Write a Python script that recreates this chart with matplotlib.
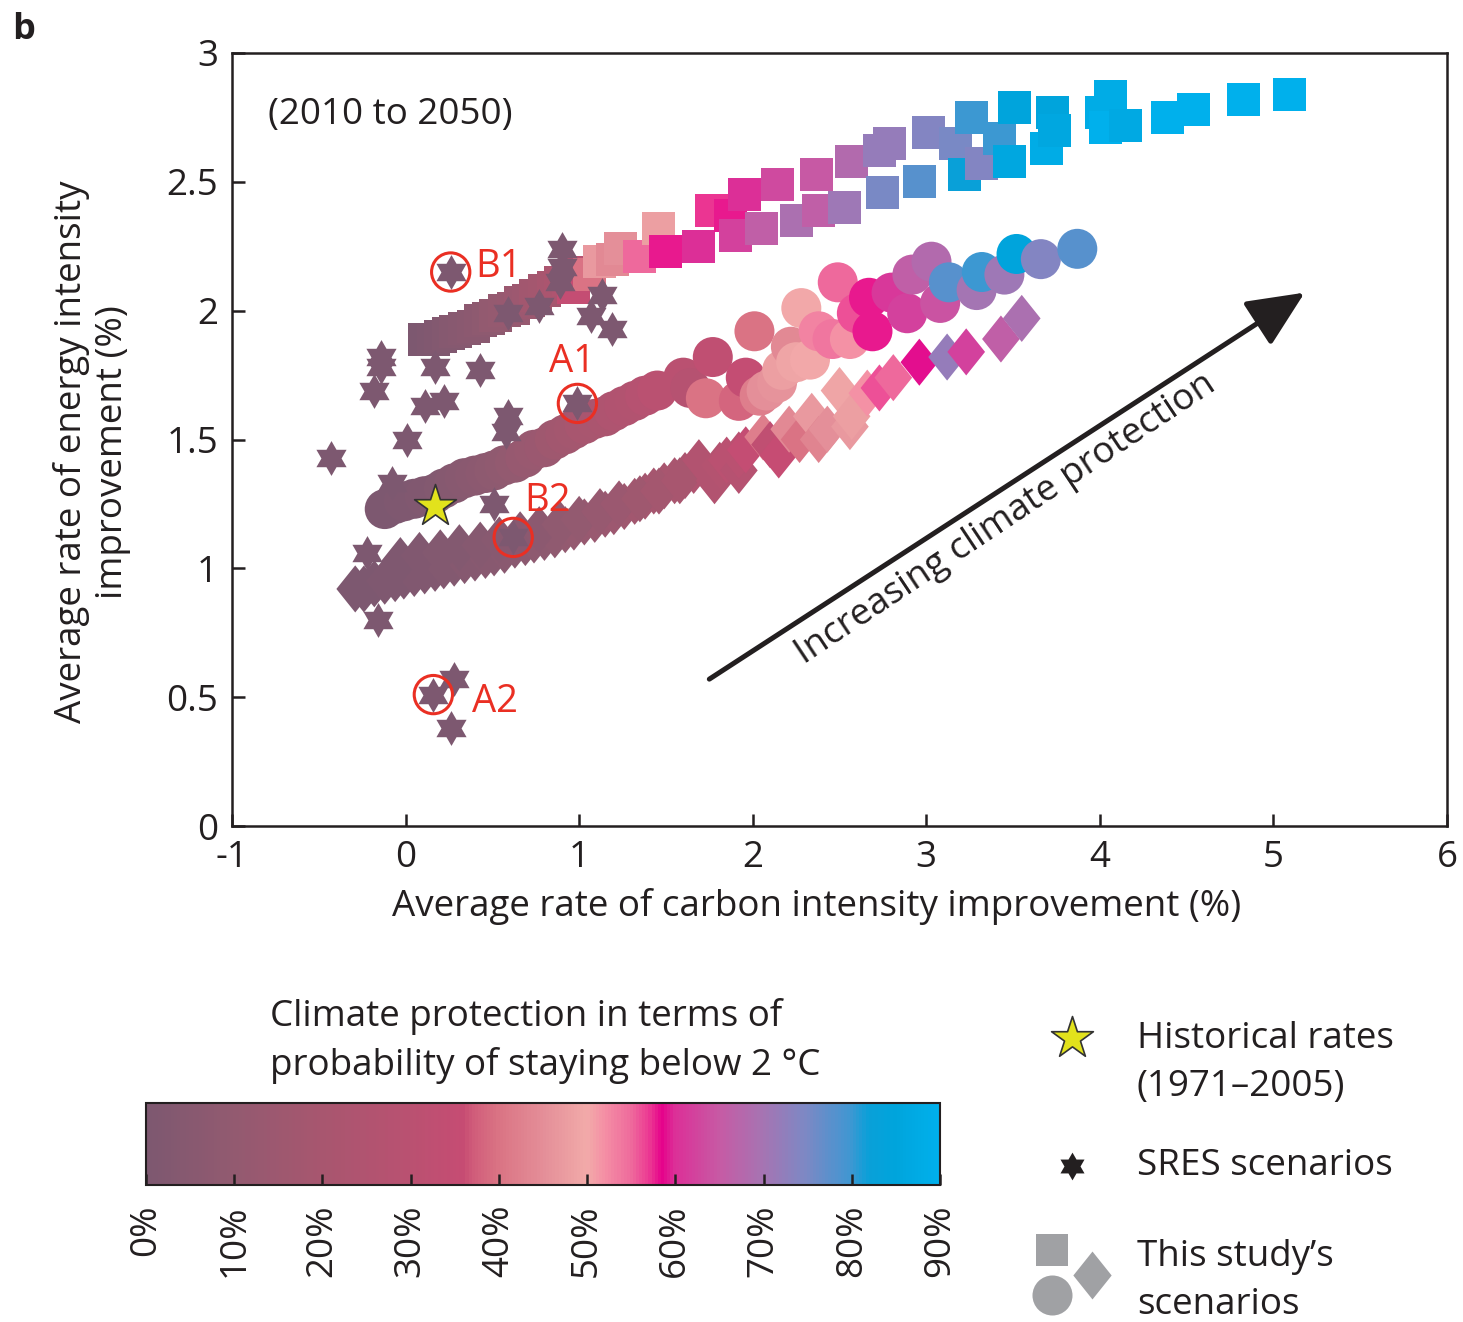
import numpy as np
import matplotlib
matplotlib.use("Agg")
import matplotlib.pyplot as plt
from matplotlib.colors import LinearSegmentedColormap, Normalize
from matplotlib.path import Path
import matplotlib.cm as cm

plt.rcParams['font.family'] = ['Open Sans', 'DejaVu Sans']
INK = '#231f20'
FS = 26.5

# colour scale: probability of staying below 2 degC (%)
cmap_pos = [0, 10, 20, 30, 36, 37, 40, 45, 50, 52, 55, 57, 58.5, 60, 65, 70, 75, 80, 82, 85, 90]
cmap_col = ['#7d5870', '#935a70', '#a8566f', '#ba5171', '#c64c73', '#d05c7a', '#da7484',
            '#e48e98', '#f2aaa9', '#f48fa5', '#ee6a9c', '#ec3c93', '#e6008a', '#dc2f97',
            '#c75aa4', '#a674b2', '#7b89c5', '#3f97d2', '#0aa0d8', '#00a4dc', '#00b0ec']
cmap = LinearSegmentedColormap.from_list('protect', list(zip(np.array(cmap_pos) / 90, cmap_col)))
norm = Normalize(0, 90)

# this study's scenarios: squares
sq_x = [0.11, 0.16, 0.20, 0.25, 0.29, 0.34, 0.39, 0.43, 0.48, 0.52, 0.57, 0.62, 0.66, 0.71,
        0.75, 0.80, 0.85, 0.89, 0.94, 0.99, 1.03, 0.97, 1.06, 1.12, 1.19, 1.24, 1.35, 1.46,
        1.50, 1.69, 1.76, 1.87, 1.90, 1.95, 2.05, 2.14, 2.25, 2.37, 2.38, 2.53, 2.57, 2.73,
        2.75, 2.79, 2.96, 3.01, 3.17, 3.22, 3.26, 3.32, 3.42, 3.48, 3.51, 3.69, 3.73, 3.74,
        4.01, 4.06, 4.03, 4.15, 4.39, 4.54, 4.83, 5.09]
sq_y = [1.89, 1.89, 1.90, 1.91, 1.92, 1.93, 1.94, 1.96, 1.97, 1.98, 2.00, 2.01, 2.03, 2.04,
        2.06, 2.08, 2.09, 2.11, 2.12, 2.14, 2.15, 2.09, 2.14, 2.19, 2.20, 2.24, 2.21, 2.32,
        2.23, 2.25, 2.39, 2.37, 2.29, 2.45, 2.32, 2.49, 2.35, 2.53, 2.39, 2.40, 2.58, 2.62,
        2.46, 2.65, 2.50, 2.69, 2.65, 2.53, 2.75, 2.57, 2.67, 2.58, 2.79, 2.63, 2.77, 2.70,
        2.77, 2.83, 2.71, 2.72, 2.75, 2.78, 2.82, 2.84]
sq_p = [0, 1, 2, 3, 4, 5, 6, 7, 8, 10, 11, 12, 14, 15,
        17, 18, 20, 22, 24, 26, 28, 35, 40, 47, 44, 45, 55, 48,
        58, 60, 57, 58, 62, 60, 66, 63, 69, 65, 66, 71, 68, 72,
        75, 72, 78, 74, 75, 82, 80, 74, 80, 86, 85, 88, 85, 86,
        88, 88, 90, 87, 90, 90, 90, 90]

# this study's scenarios: circles
ci_x = [-0.12, -0.06, -0.01, 0.05, 0.11, 0.17, 0.22, 0.28, 0.34, 0.40, 0.46, 0.51, 0.57, 0.63,
        0.69, 0.74, 0.80, 0.86, 0.92, 0.97, 1.03, 1.09, 1.15, 1.20, 1.26, 1.32, 1.38, 1.45,
        1.60, 1.64, 1.73, 1.77, 1.92, 1.96, 2.01, 2.04, 2.08, 2.14, 2.17, 2.22, 2.25, 2.28,
        2.33, 2.38, 2.46, 2.49, 2.56, 2.60, 2.67, 2.69, 2.80, 2.89, 2.92, 3.03, 3.08, 3.13,
        3.29, 3.32, 3.45, 3.52, 3.66, 3.87]
ci_y = [1.23, 1.25, 1.26, 1.27, 1.28, 1.29, 1.31, 1.33, 1.35, 1.36, 1.37, 1.38, 1.40, 1.41,
        1.43, 1.46, 1.47, 1.50, 1.52, 1.54, 1.56, 1.58, 1.59, 1.61, 1.63, 1.65, 1.67, 1.69,
        1.74, 1.70, 1.66, 1.82, 1.65, 1.74, 1.92, 1.67, 1.69, 1.72, 1.77, 1.86, 1.80, 2.01,
        1.81, 1.92, 1.89, 2.11, 1.89, 1.99, 2.05, 1.92, 2.07, 1.99, 2.14, 2.19, 2.03, 2.11,
        2.08, 2.15, 2.14, 2.22, 2.20, 2.24]
ci_p = [0, 0, 1, 1, 2, 2, 3, 4, 5, 6, 7, 8, 9, 10,
        12, 13, 14, 16, 17, 18, 20, 21, 22, 24, 25, 26, 28, 30,
        30, 28, 40, 33, 38, 35, 40, 42, 45, 46, 48, 44, 49, 50,
        50, 53, 54, 55, 52, 56, 58, 58, 61, 62, 66, 68, 64, 78,
        70, 80, 71, 85, 74, 78]

# this study's scenarios: diamonds
di_x = [-0.29, -0.24, -0.18, -0.12, -0.06, -0.01, 0.05, 0.11, 0.17, 0.22, 0.28, 0.34, 0.40, 0.46,
        0.51, 0.57, 0.63, 0.69, 0.74, 0.80, 0.86, 0.92, 0.97, 1.03, 1.09, 1.15, 1.20, 1.26,
        1.32, 1.38, 1.43, 1.49, 1.55, 1.61, 1.66, 1.69,
        -0.03, 0.08, 0.20, 0.31, 0.43, 0.54, 0.66, 0.77, 0.89, 1.00, 1.12, 1.23, 1.35, 1.46, 1.58,
        1.78, 1.81, 1.85, 1.92, 1.92, 1.96, 2.06, 2.10, 2.15, 2.21, 2.27, 2.34, 2.38, 2.43,
        2.50, 2.56, 2.57, 2.66, 2.73, 2.81, 2.96, 3.12, 3.23, 3.43, 3.55]
di_y = [0.92, 0.92, 0.94, 0.95, 0.96, 0.97, 0.98, 0.99, 1.00, 1.01, 1.02, 1.03, 1.04, 1.05,
        1.06, 1.07, 1.09, 1.10, 1.11, 1.12, 1.13, 1.15, 1.16, 1.18, 1.19, 1.21, 1.22, 1.24,
        1.26, 1.28, 1.30, 1.32, 1.34, 1.36, 1.38, 1.41,
        1.03, 1.05, 1.06, 1.08, 1.09, 1.11, 1.13, 1.15, 1.17, 1.19, 1.22, 1.25, 1.27, 1.30, 1.34,
        1.34, 1.40, 1.42, 1.38, 1.44, 1.46, 1.51, 1.48, 1.44, 1.54, 1.50, 1.59, 1.50, 1.54,
        1.69, 1.55, 1.59, 1.68, 1.70, 1.74, 1.80, 1.82, 1.84, 1.89, 1.97]
di_p = [0, 0, 0, 1, 1, 1, 2, 2, 2, 3, 3, 4, 4, 5,
        5, 6, 6, 7, 8, 8, 9, 10, 11, 12, 13, 14, 15, 16,
        17, 18, 19, 20, 21, 22, 24, 26,
        1, 2, 3, 3, 4, 5, 6, 7, 9, 10, 12, 14, 16, 18, 20,
        26, 27, 30, 28, 30, 35, 42, 33, 36, 44, 40, 47, 43, 45,
        49, 47, 48, 52, 56, 55, 59, 72, 62, 66, 69]

# SRES scenarios
sres_x = [0.26, 0.90, 0.90, 0.89, 0.59, 0.77, 1.13, 1.07, 1.19, -0.14, -0.14, -0.18, 0.17, 0.43,
          0.11, 0.22, 0.59, 0.58, 0.01, -0.43, 0.99, -0.08, 0.51, -0.22, -0.16, 0.16, 0.28, 0.26,
          0.62]
sres_y = [2.15, 2.24, 2.17, 2.11, 1.99, 2.02, 2.06, 1.98, 1.93, 1.82, 1.78, 1.69, 1.78, 1.77,
          1.63, 1.65, 1.59, 1.53, 1.50, 1.43, 1.64, 1.33, 1.25, 1.06, 0.80, 0.51, 0.57, 0.38,
          1.12]

# historical rates 1971-2005
hist_x, hist_y = 0.17, 1.24

# highlighted SRES marker scenarios
mark_names = ['B1', 'A1', 'B2', 'A2']
mark_x = [0.26, 0.99, 0.62, 0.16]
mark_y = [2.15, 1.64, 1.12, 0.51]
mark_tx = [0.40, 0.96, 0.82, 0.38]
mark_ty = [2.17, 1.80, 1.26, 0.48]
mark_ha = ['left', 'center', 'center', 'left']

# six-pointed star and tall diamond marker shapes
k = np.arange(12)
ang = np.deg2rad(90 + 30 * k)
rad = np.where(k % 2 == 0, 1.0, 1 / np.sqrt(3))
hv = np.column_stack([rad * np.cos(ang), rad * np.sin(ang)])
hexstar = Path(np.vstack([hv, hv[:1]]), [Path.MOVETO] + [Path.LINETO] * 11 + [Path.CLOSEPOLY])
diamond = Path([(0, 1), (0.8, 0), (0, -1), (-0.8, 0), (0, 1)],
               [Path.MOVETO, Path.LINETO, Path.LINETO, Path.LINETO, Path.CLOSEPOLY])

W, H = 1463, 1322
fig = plt.figure(figsize=(W / 100, H / 100), dpi=100)


def fx(x):
    return x / W


def fy(y):
    return 1 - y / H


ax = fig.add_axes([fx(232), fy(826), (1447 - 232) / W, (826 - 53) / H])

ax.scatter(di_x, di_y, s=1150, marker=diamond, c=di_p, cmap=cmap, norm=norm, linewidths=0, zorder=2)
ax.scatter(ci_x, ci_y, s=830, marker='o', c=ci_p, cmap=cmap, norm=norm, linewidths=0, zorder=3)
ax.scatter(sq_x, sq_y, s=565, marker='s', c=sq_p, cmap=cmap, norm=norm, linewidths=0, zorder=4)
ax.scatter(sres_x, sres_y, s=630, marker=hexstar, color=cmap(0.0), linewidths=0, zorder=5)
ax.scatter([hist_x], [hist_y], s=1000, marker='*', color='#e2e21c', edgecolors='#333333',
           linewidths=1.2, zorder=6)

ax.scatter(mark_x, mark_y, s=760, marker='o', facecolors='none', edgecolors='#ea2f23',
           linewidths=2.2, zorder=7)
for name, tx, ty, ha in zip(mark_names, mark_tx, mark_ty, mark_ha):
    ax.text(tx, ty, name, color='#ea2f23', fontsize=FS + 1, ha=ha, va='center', zorder=8)

ax.annotate('', xy=(5.18, 2.07), xytext=(1.75, 0.57),
            arrowprops=dict(arrowstyle='-|>,head_length=1.1,head_width=0.5', lw=3.6,
                            color=INK, mutation_scale=32, shrinkA=0, shrinkB=0))
ax.text(3.46, 1.19, 'Increasing climate protection', rotation=33.7, rotation_mode='anchor',
        ha='center', va='center', fontsize=FS, color=INK)
ax.text(0.03, 0.92, '(2010 to 2050)', transform=ax.transAxes, fontsize=FS, color=INK,
        ha='left', va='center')

ax.set_xlim(-1, 6)
ax.set_ylim(0, 3)
ax.set_xticks(range(-1, 7))
ax.set_xticklabels(['-1', '0', '1', '2', '3', '4', '5', '6'])
ax.set_yticks([0, 0.5, 1, 1.5, 2, 2.5, 3])
ax.set_yticklabels(['0', '0.5', '1', '1.5', '2', '2.5', '3'])
ax.tick_params(direction='in', length=9, width=1.8, labelsize=FS, pad=10, colors=INK,
               top=False, right=False)
for sp in ax.spines.values():
    sp.set_linewidth(1.8)
    sp.set_color(INK)
ax.set_xlabel('Average rate of carbon intensity improvement (%)', fontsize=FS, color=INK,
              va='center')
ax.xaxis.set_label_coords(0.481, -0.104)
ax.set_ylabel('Average rate of energy intensity\nimprovement (%)', fontsize=FS, color=INK,
              va='center', linespacing=1.17)
ax.yaxis.set_label_coords(-0.115, 0.484)

fig.text(fx(12), fy(30), 'b', fontsize=26, fontweight='bold', color=INK, va='center')

# colour bar
cax = fig.add_axes([fx(146), fy(1185), 794 / W, 82 / H])
cb = fig.colorbar(cm.ScalarMappable(norm=norm, cmap=cmap), cax=cax, orientation='horizontal')
cb.set_ticks(range(0, 91, 10))
cb.set_ticklabels([f'{v}%' for v in range(0, 91, 10)])
cb.outline.set_linewidth(1.5)
cb.outline.set_edgecolor(INK)
cax.tick_params(direction='in', length=8, width=1.8, labelsize=FS, pad=14, colors=INK)
for lab in cax.get_xticklabels():
    lab.set_rotation(90)
    lab.set_va('top')
fig.text(fx(270), fy(1041), 'Climate protection in terms of\nprobability of staying below 2 °C',
         fontsize=FS, color=INK, ha='left', va='center', linespacing=1.45)

# legend
lax = fig.add_axes([0, 0, 1, 1], zorder=-1)
lax.set_xlim(0, W)
lax.set_ylim(H, 0)
lax.axis('off')
lax.scatter([1072], [1038], s=1000, marker='*', color='#e2e21c', edgecolors='#333333', linewidths=1.2)
lax.scatter([1072], [1166], s=400, marker=hexstar, color=INK, linewidths=0)
grey = '#a0a1a4'
lax.scatter([1052], [1250], s=530, marker='s', color=grey, linewidths=0)
lax.scatter([1052], [1295], s=830, marker='o', color=grey, linewidths=0)
lax.scatter([1092], [1275], s=1190, marker=diamond, color=grey, linewidths=0)
fig.text(fx(1137), fy(1063), 'Historical rates\n(1971–2005)', fontsize=FS, color=INK,
         ha='left', va='center', linespacing=1.45)
fig.text(fx(1137), fy(1166), 'SRES scenarios', fontsize=FS, color=INK, ha='left', va='center')
fig.text(fx(1137), fy(1281), 'This study’s\nscenarios', fontsize=FS, color=INK,
         ha='left', va='center', linespacing=1.45)

fig.savefig('out.png', dpi=100)
